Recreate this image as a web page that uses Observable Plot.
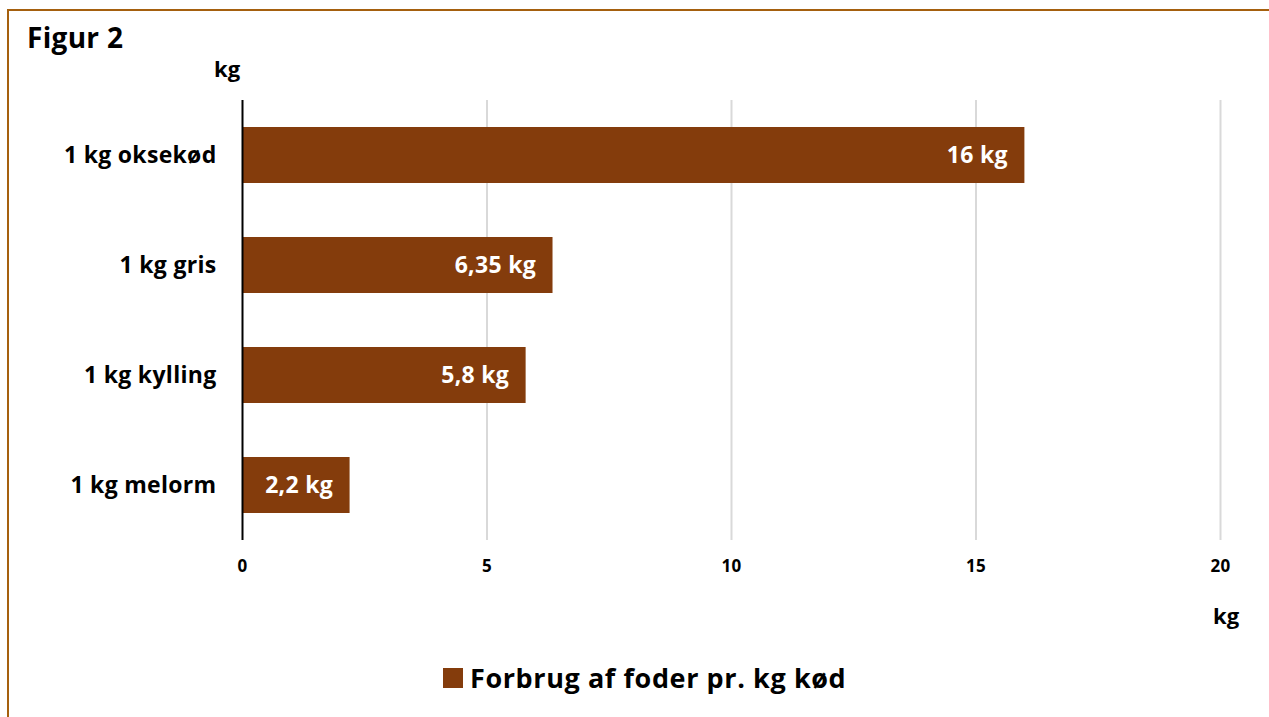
<!DOCTYPE html>
<html>
<head>
<meta charset="utf-8">
<script src="https://cdn.jsdelivr.net/npm/d3@7"></script>
<script src="https://cdn.jsdelivr.net/npm/@observablehq/plot@0.6"></script>
<style>
  html, body { margin: 0; padding: 0; background: #fff; }
  body { font-family: "Open Sans", Lato, sans-serif; }
  #wrap { position: relative; width: 1269px; height: 717px; overflow: hidden; }
  #frame { position: absolute; left: 7px; top: 9px; width: 1300px; height: 760px;
           border-top: 2px solid #A5600E; border-left: 2px solid #A5600E; box-sizing: border-box; }
  #chart { position: absolute; left: 0; top: 0; }
  .txt { position: absolute; font-weight: 700; color: #000; white-space: nowrap; }
  #title { left: 27px; top: 18px; font-size: 28px; letter-spacing: 0.3px; }
  #kgTop { left: 214px; top: 53px; font-size: 22px; }
  #kgBottom { left: 1213px; top: 600px; font-size: 22px; }
  #legend { left: 443px; top: 659px; font-size: 27px; letter-spacing: 0.6px; display: flex; align-items: center; }
  #legend .sw { width: 20px; height: 20px; background: #843C0C; margin-right: 7px; }
</style>
</head>
<body>
<div id="wrap">
  <div id="frame"></div>
  <div id="chart"></div>
  <div id="title" class="txt">Figur 2</div>
  <div id="kgTop" class="txt">kg</div>
  <div id="kgBottom" class="txt">kg</div>
  <div id="legend" class="txt"><span class="sw"></span><span>Forbrug af foder pr. kg kød</span></div>
</div>
<script>
const categories = ["1 kg oksekød", "1 kg gris", "1 kg kylling", "1 kg melorm"];
const values = [16, 6.35, 5.8, 2.2];
const xTicks = [0, 5, 10, 15, 20];
const barColor = "#843C0C";

const data = categories.map((c, i) => ({category: c, value: values[i], label: String(values[i]).replace(".", ",") + " kg"}));

const chart = Plot.plot({
  width: 1269,
  height: 717,
  marginLeft: 242,
  marginRight: 49,
  marginTop: 100,
  marginBottom: 177,
  style: {fontFamily: "'Open Sans', Lato, sans-serif", background: "transparent", overflow: "visible", letterSpacing: "0.3px"},
  x: {domain: [0, 20], ticks: xTicks},
  y: {domain: categories, paddingInner: 0.49, paddingOuter: 0.245},
  marks: [
    Plot.gridX(xTicks.slice(1), {stroke: "#d9d9d9", strokeOpacity: 1, strokeWidth: 2}),
    Plot.barX(data, {y: "category", x: "value", fill: barColor}),
    Plot.ruleX([0], {stroke: "#000", strokeWidth: 2}),
    Plot.text(data, {y: "category", x: "value", text: "label", textAnchor: "end", dx: -17, fill: "#fff", fontSize: 23, fontWeight: 700}),
    Plot.axisX(xTicks, {tickSize: 0, tickPadding: 19, fontSize: 17, fontWeight: 700, label: null, fill: "#000"}),
    Plot.axisY({tickSize: 0, tickPadding: 26, fontSize: 23, fontWeight: 700, label: null, fill: "#000"})
  ]
});
document.getElementById("chart").appendChild(chart);
</script>
</body>
</html>
